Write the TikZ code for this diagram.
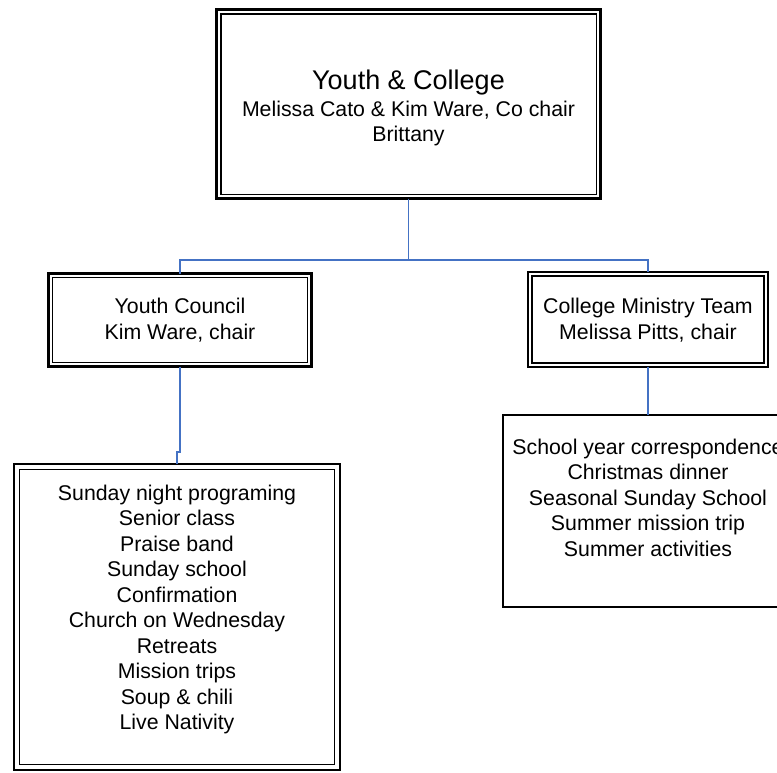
\documentclass[tikz,border=0pt]{standalone}
\usepackage{fontspec}
\setmainfont{Liberation Sans}
\definecolor{connblue}{RGB}{68,114,196}
\begin{document}
\begin{tikzpicture}[x=1pt,y=-1pt,
  boxthick/.style={draw=black,line width=2.8pt,inner sep=0pt,outer sep=0pt},
  innerthin/.style={draw=black,line width=1.4pt},
  boxdbl/.style={draw=black,line width=1.2pt,inner sep=0pt,outer sep=0pt},
  boxsingle/.style={draw=black,line width=1.5pt,inner sep=0pt,outer sep=0pt},
  conn/.style={draw=connblue,line width=1.4pt},
  txt/.style={inner sep=0pt,align=center,font=\fontsize{21.3}{25.5}\selectfont},
]
\useasboundingbox (0,0) rectangle (777,772);
\begin{scope}
\clip (0,0) rectangle (777,772);
% boxes
\node[boxthick,minimum width=384pt,minimum height=189pt] (top) at (408.5,104) {};
\draw[innerthin] ([shift={(4.3,4.3)}]top.north west) rectangle ([shift={(-4.3,-4.3)}]top.south east);
\node[boxthick,minimum width=263pt,minimum height=93pt] (yc) at (180,320) {};
\draw[innerthin] ([shift={(4,4)}]yc.north west) rectangle ([shift={(-4,-4)}]yc.south east);
\node[boxthick,minimum width=240pt,minimum height=95pt] (cm) at (648,319.5) {};
\draw[innerthin] ([shift={(4,4)}]cm.north west) rectangle ([shift={(-4,-4)}]cm.south east);
\node[boxdbl,minimum width=326pt,minimum height=306pt] (ll) at (177,617) {};
\draw[innerthin,line width=1.2pt] ([shift={(5.5,5.5)}]ll.north west) rectangle ([shift={(-5.5,-5.5)}]ll.south east);
\node[boxsingle,minimum width=290pt,minimum height=192pt] (cr) at (648,511) {};
% texts
\node[txt,anchor=north,font=\fontsize{27}{28}\selectfont] (toptitle) at (408.5,70) {Youth \& College};
\node[txt,anchor=north] (topsub) at (408.5,100.5) {Melissa Cato \& Kim Ware, Co chair\\Brittany};
\node[txt,anchor=north] (yctext) at (180,298) {Youth Council\\Kim Ware, chair};
\node[txt,anchor=north] (cmtext) at (648,298) {College Ministry Team\\Melissa Pitts, chair};
\node[txt,anchor=north] (lltext) at (177,484.5) {Sunday night programing\\Senior class\\Praise band\\Sunday school\\Confirmation\\Church on Wednesday\\Retreats\\Mission trips\\Soup \& chili\\Live Nativity};
\node[txt,anchor=north] (crtext) at (648,438.5) {School year correspondence\\Christmas dinner\\Seasonal Sunday School\\Summer mission trip\\Summer activities};
% connectors
\coordinate (busL) at (180,260);
\coordinate (busR) at (648,260);
\coordinate (jog) at (180,452);
\draw[conn] (top.south) |- (busL) -- (yc.north);
\draw[conn] (top.south) |- (busR) -- (cm.north);
\draw[conn] (yc.south) -- (jog) -| (ll.north);
\draw[conn] (cm.south) -- (cr.north);
\end{scope}
\end{tikzpicture}
\end{document}
